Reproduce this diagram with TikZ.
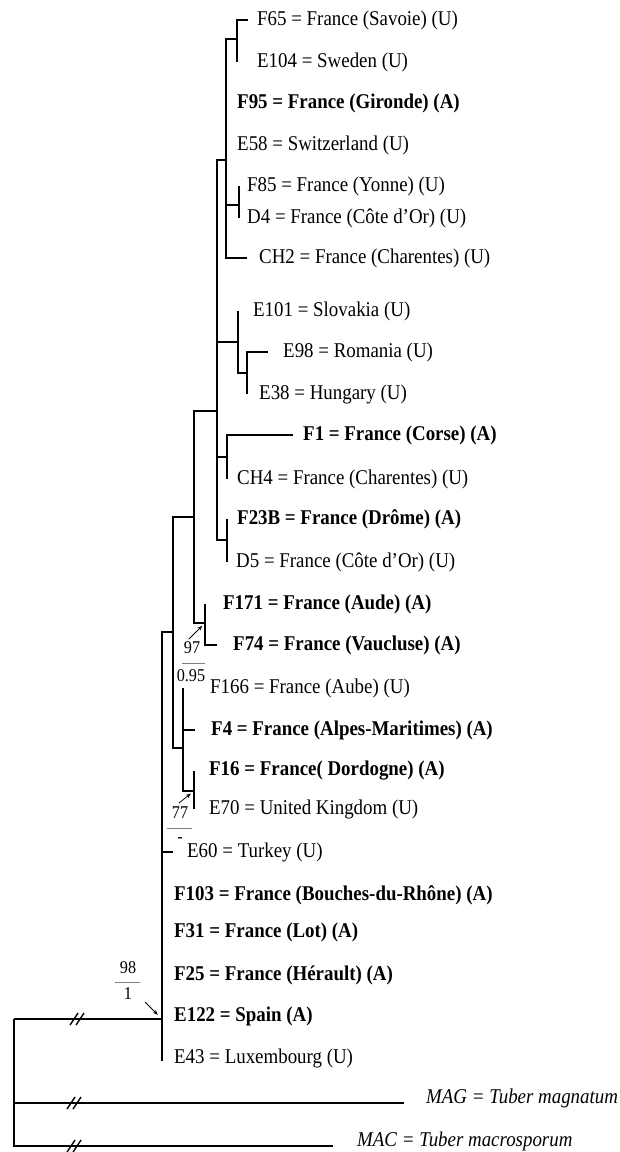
\documentclass[tikz,border=0pt]{standalone}
\usepackage{fontspec}
\setmainfont{Liberation Serif}[FakeStretch=0.9]
\usetikzlibrary{arrows.meta}

\tikzset{
  branch/.style={line width=1.8pt},
  taxon/.style={inner sep=0pt, font=\fontsize{21}{23}\selectfont},
  taxonA/.style={taxon, font=\fontsize{21}{23}\selectfont\bfseries},
  outgroup/.style={taxon, font=\fontsize{21}{23}\selectfont\itshape, yshift=5pt},
  support/.style={inner sep=0pt, font=\fontsize{18}{20}\selectfont},
  supbar/.style={gray, line width=1pt},
  suparrow/.style={-{Stealth[length=5pt,width=4pt]}, line width=0.8pt},
}

\begin{document}
\begin{tikzpicture}[x=1pt,y=-1pt]
  \useasboundingbox (0,0) rectangle (619,1152);

  % internal nodes
  \coordinate (root) at (14,1019);
  \coordinate (n0) at (162,1019);
  \coordinate (n1) at (173,632);
  \coordinate (n2) at (194,517);
  \coordinate (n3) at (217,411);
  \coordinate (n4) at (226,160);
  \coordinate (n5) at (237,39);
  \coordinate (n11) at (239,205);
  \coordinate (n8) at (238,342);
  \coordinate (n12) at (247,373);
  \coordinate (n9) at (227,457);
  \coordinate (n10) at (227,540);
  \coordinate (n7) at (205,623);
  \coordinate (n6) at (183,748);
  \coordinate (n13) at (194,791);

  % tips
  \coordinate (tF65) at (248,20);
  \coordinate (tE104) at (237,62);
  \coordinate (tF95) at (226,103);
  \coordinate (tE58) at (226,145);
  \coordinate (tF85) at (239,186);
  \coordinate (tD4) at (239,218);
  \coordinate (tCH2) at (247,258);
  \coordinate (tE101) at (238,311);
  \coordinate (tE98) at (268,352);
  \coordinate (tE38) at (247,394);
  \coordinate (tF1) at (293,435);
  \coordinate (tCH4) at (227,479);
  \coordinate (tF23B) at (227,519);
  \coordinate (tD5) at (227,562);
  \coordinate (tF171) at (205,604);
  \coordinate (tF74) at (217,645);
  \coordinate (tF166) at (183,688);
  \coordinate (tF4) at (195,730);
  \coordinate (tF16) at (194,771);
  \coordinate (tE70) at (194,809);
  \coordinate (tE60) at (173,852);
  \coordinate (tF103) at (162,895);
  \coordinate (tF31) at (162,932);
  \coordinate (tF25) at (162,975);
  \coordinate (tE122) at (162,1016);
  \coordinate (tE43) at (162,1061);
  \coordinate (tMAG) at (404,1103);
  \coordinate (tMAC) at (333,1146);

  % draw branches
  \draw[branch] (root) |- (n0);
  \draw[branch] (root) |- (tMAG);
  \draw[branch] (root) |- (tMAC);
  \foreach \c in {n1,tE60,tF103,tF31,tF25,tE122,tE43}
    \draw[branch] (n0) |- (\c);
  \draw[branch] (n1) |- (n2);
  \draw[branch] (n1) |- (n6);
  \draw[branch] (n2) |- (n3);
  \draw[branch] (n2) |- (n7);
  \foreach \c in {n4,n8,n9,n10}
    \draw[branch] (n3) |- (\c);
  \foreach \c in {n5,tF95,tE58,n11,tCH2}
    \draw[branch] (n4) |- (\c);
  \draw[branch] (n5) |- (tF65);
  \draw[branch] (n5) |- (tE104);
  \draw[branch] (n11) |- (tF85);
  \draw[branch] (n11) |- (tD4);
  \draw[branch] (n8) |- (tE101);
  \draw[branch] (n8) |- (n12);
  \draw[branch] (n12) |- (tE98);
  \draw[branch] (n12) |- (tE38);
  \draw[branch] (n9) |- (tF1);
  \draw[branch] (n9) |- (tCH4);
  \draw[branch] (n10) |- (tF23B);
  \draw[branch] (n10) |- (tD5);
  \draw[branch] (n7) |- (tF171);
  \draw[branch] (n7) |- (tF74);
  \foreach \c in {tF166,tF4,n13}
    \draw[branch] (n6) |- (\c);
  \draw[branch] (n13) |- (tF16);
  \draw[branch] (n13) |- (tE70);

  % draw breaks
  \foreach \hx/\hy in {77/1019,74/1103,74/1146} {
    \draw[line width=1.4pt] (\hx-7,\hy+6) -- (\hx+1,\hy-6);
    \draw[line width=1.4pt] (\hx-1,\hy+6) -- (\hx+7,\hy-6);
  }

  % draw taxa
  \node[taxon, right=9pt] (F65) at (tF65) {F65 = France (Savoie) (U)};
  \node[taxon, right=20pt] (E104) at (tE104) {E104 = Sweden (U)};
  \node[taxonA, right=11pt] (F95) at (tF95) {F95 = France (Gironde) (A)};
  \node[taxon, right=11pt] (E58) at (tE58) {E58 = Switzerland (U)};
  \node[taxon, right=8pt] (F85) at (tF85) {F85 = France (Yonne) (U)};
  \node[taxon, right=8pt] (D4) at (tD4) {D4 = France (Côte d’Or) (U)};
  \node[taxon, right=12pt] (CH2) at (tCH2) {CH2 = France (Charentes) (U)};
  \node[taxon, right=15pt] (E101) at (tE101) {E101 = Slovakia (U)};
  \node[taxon, right=15pt] (E98) at (tE98) {E98 = Romania (U)};
  \node[taxon, right=12pt] (E38) at (tE38) {E38 = Hungary (U)};
  \node[taxonA, right=10pt] (F1) at (tF1) {F1 = France (Corse) (A)};
  \node[taxon, right=10pt] (CH4) at (tCH4) {CH4 = France (Charentes) (U)};
  \node[taxonA, right=10pt] (F23B) at (tF23B) {F23B = France (Drôme) (A)};
  \node[taxon, right=9pt] (D5) at (tD5) {D5 = France (Côte d’Or) (U)};
  \node[taxonA, right=18pt] (F171) at (tF171) {F171 = France (Aude) (A)};
  \node[taxonA, right=16pt] (F74) at (tF74) {F74 = France (Vaucluse) (A)};
  \node[taxon, right=27pt] (F166) at (tF166) {F166 = France (Aube) (U)};
  \node[taxonA, right=16pt] (F4) at (tF4) {F4 = France (Alpes-Maritimes) (A)};
  \node[taxonA, right=15pt] (F16) at (tF16) {F16 = France( Dordogne) (A)};
  \node[taxon, right=15pt] (E70) at (tE70) {E70 = United Kingdom (U)};
  \node[taxon, right=14pt] (E60) at (tE60) {E60 = Turkey (U)};
  \node[taxonA, right=12pt] (F103) at (tF103) {F103 = France (Bouches-du-Rhône) (A)};
  \node[taxonA, right=12pt] (F31) at (tF31) {F31 = France (Lot) (A)};
  \node[taxonA, right=12pt] (F25) at (tF25) {F25 = France (Hérault) (A)};
  \node[taxonA, right=12pt] (E122) at (tE122) {E122 = Spain (A)};
  \node[taxon, right=12pt, yshift=3pt] (E43) at (tE43) {E43 = Luxembourg (U)};
  \node[outgroup, right=22pt] (MAG) at (tMAG) {MAG = Tuber magnatum};
  \node[outgroup, right=24pt] (MAC) at (tMAC) {MAC = Tuber macrosporum};

  % draw support values
  \node[support] (s97) at (192,648) {97};
  \node[support] (p97) at (191,676) {0.95};
  \draw[supbar] (182,663) -- (205,663);
  \coordinate (a97) at (189,639);
  \draw[suparrow, shorten >=4pt] (a97) -- (n7);

  \node[support] (s77) at (180,813) {77};
  \node[support] (p77) at (180,840) {-};
  \draw[supbar] (167,828) -- (192,828);
  \coordinate (a77) at (179,803);
  \draw[suparrow, shorten >=4pt] (a77) -- (n13);

  \node[support] (s98) at (128,968) {98};
  \node[support] (p98) at (128,994) {1};
  \draw[supbar] (115,982) -- (140,982);
  \coordinate (a98) at (145,1002);
  \draw[suparrow, shorten >=6pt] (a98) -- (n0);
\end{tikzpicture}
\end{document}
